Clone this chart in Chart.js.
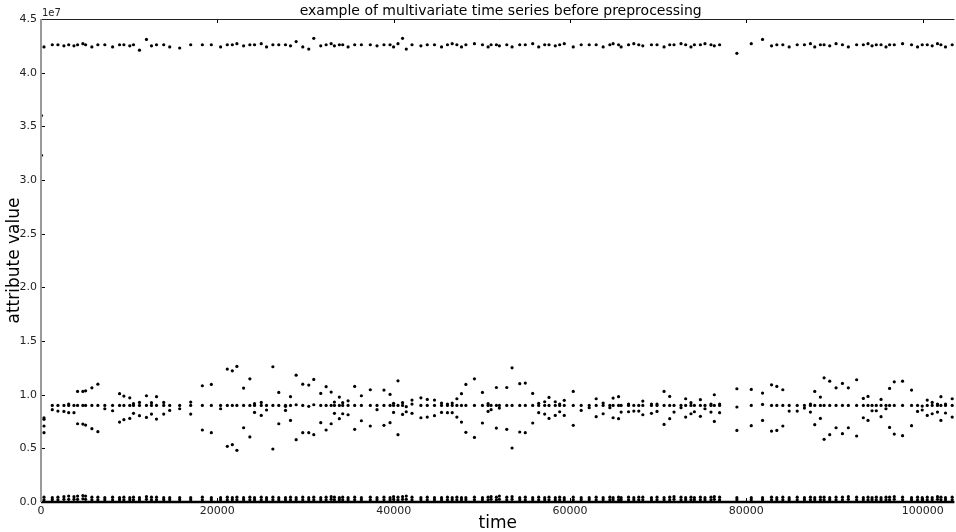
<!DOCTYPE html>
<html>
<head>
<meta charset="utf-8">
<script src="https://cdn.jsdelivr.net/npm/chart.js@4/dist/chart.umd.min.js"></script>
<style>
  html, body { margin: 0; padding: 0; background: #fff; }
  #chart { display: block; }
</style>
</head>
<body>
<canvas id="chart" width="956" height="532"></canvas>
<script>
// sample times (x axis)
const times = [
  340, 1280, 1920, 2600, 3140, 3740, 4150, 4750, 5060, 5770,
  6450, 7240, 8120, 8910, 9400, 10070, 10490, 11170, 11960, 12530,
  13100, 13920, 14600, 15730, 16980, 18300, 19320, 20370, 21130, 21700,
  22220, 22980, 23690, 24220, 24980, 25580, 26300, 26970, 27730, 28300,
  28940, 29690, 30370, 30940, 31730, 32340, 32910, 33280, 33840, 34220,
  34830, 35580, 36340, 37350, 38110, 38900, 39590, 39990, 40490, 41010,
  41430, 42080, 43090, 43810, 44630, 45430, 46100, 46640, 47170, 47690,
  48190, 49160, 50070, 50710, 51050, 51650, 51990, 52830, 53430, 54300,
  54930, 55770, 56450, 57130, 57620, 58330, 58830, 59350, 60370, 61270,
  62180, 62970, 63760, 64520, 64890, 65510, 65800, 66640, 67240, 67800,
  68260, 69240, 69870, 70670, 71310, 71800, 72590, 73120, 73720, 74110,
  74790, 75310, 75990, 76370, 76970, 78930, 80560, 81840, 82860, 83460,
  84140, 84860, 85770, 86590, 87270, 87760, 88400, 88820, 89460, 90180,
  90900, 91570, 92510, 93270, 93800, 94260, 94740, 95280, 95840, 96250,
  96780, 97720, 98740, 99420, 99950, 100520, 101080, 101680, 102070, 102590,
  103350
];

// attribute values, in millions
const topSeries = [
  42.4, 42.6, 42.6, 42.5, 42.6, 42.5, 42.6, 42.7, 42.6, 42.4,
  42.6, 42.6, 42.4, 42.6, 42.6, 42.5, 42.6, 42.1, 43.1, 42.5,
  42.6, 42.6, 42.4, 42.3, 42.6, 42.6, 42.6, 42.4, 42.6, 42.6,
  42.7, 42.5, 42.6, 42.6, 42.7, 42.4, 42.6, 42.6, 42.6, 42.5,
  42.9, 42.4, 42.2, 43.2, 42.5, 42.6, 42.7, 42.5, 42.6, 42.6,
  42.4, 42.6, 42.6, 42.6, 42.5, 42.6, 42.6, 42.4, 42.7, 43.2,
  42.2, 42.6, 42.5, 42.6, 42.6, 42.4, 42.6, 42.7, 42.6, 42.4,
  42.6, 42.7, 42.6, 42.4, 42.6, 42.6, 42.5, 42.6, 42.4, 42.6,
  42.6, 42.7, 42.4, 42.6, 42.6, 42.5, 42.6, 42.7, 42.4, 42.6,
  42.6, 42.6, 42.4, 42.6, 42.7, 42.6, 42.4, 42.6, 42.7, 42.6,
  42.5, 42.6, 42.6, 42.4, 42.6, 42.6, 42.7, 42.6, 42.4, 42.6,
  42.6, 42.7, 42.6, 42.5, 42.6, 41.8, 42.7, 43.1, 42.5, 42.6,
  42.6, 42.4, 42.6, 42.6, 42.7, 42.4, 42.6, 42.6, 42.5, 42.7,
  42.6, 42.4, 42.6, 42.6, 42.7, 42.5, 42.6, 42.6, 42.4, 42.6,
  42.6, 42.7, 42.6, 42.4, 42.6, 42.6, 42.5, 42.7, 42.6, 42.4,
  42.6
];

const midUpper = [
  7.85, null, null, null, 9.12, null, 10.30, 10.30, 10.36, 10.64,
  10.98, null, null, 10.09, 9.87, 9.71, 9.16, 9.28, 9.90, 9.25,
  9.81, 9.28, null, null, 9.31, 10.83, 10.95, null, 12.38, 12.22,
  12.63, 10.61, 11.48, 9.16, 9.28, null, 12.60, 10.21, 9.00, 9.81,
  11.82, 10.98, 10.89, 11.42, 10.12, 10.74, 10.24, 9.31, 9.78, 9.25,
  9.43, 10.77, 9.90, 10.46, null, 10.43, 10.02, 9.19, 11.29, 9.25,
  null, 9.50, 9.71, 9.56, 9.50, 9.22, 9.12, 9.22, 9.62, 10.09,
  10.95, 11.48, 10.21, 9.16, null, 10.67, null, 10.67, 12.50, 11.02,
  11.08, 10.12, 9.19, 9.34, 9.74, 9.34, 9.12, 9.47, 10.30, null,
  null, 9.62, 9.22, null, 9.68, 9.81, null, 9.12, null, null,
  9.40, 9.12, 9.12, 10.30, 9.84, null, null, 9.62, 9.25, null,
  9.53, null, 9.12, 9.99, 9.12, 10.55, 10.49, 10.15, 10.92, 10.77,
  10.46, null, null, null, 9.12, 10.30, 9.78, 11.57, 11.26, 10.64,
  11.05, 10.64, 11.39, 9.65, 9.84, null, null, 9.56, null, 10.58,
  11.20, 11.26, 10.43, null, null, 9.50, 9.28, 9.12, 9.81, 9.12,
  9.62
];

const midCenter = [
  7.70, 9.00, 9.00, 9.00, 9.00, 9.00, 9.00, 9.00, 9.00, 9.00,
  9.00, 9.00, 9.00, 9.00, 9.00, 9.00, 9.00, 9.00, 9.00, 9.00,
  9.00, 9.00, 9.00, 9.00, 9.00, 9.00, 9.00, 9.00, 9.00, 9.00,
  9.00, 9.00, 9.00, 9.00, 9.00, 9.00, 9.00, 9.00, 8.91, 9.00,
  9.06, 9.00, 8.91, 9.06, 9.00, 9.00, 9.00, 9.00, 9.00, 9.00,
  9.00, 9.00, 9.00, 9.00, 9.00, 9.00, 9.00, 9.00, 9.00, 9.00,
  8.88, 9.12, 9.00, 9.00, 9.00, 9.00, 9.00, 9.00, 9.00, 9.00,
  9.00, 9.00, 9.00, 9.00, 9.00, 9.00, 9.00, 9.00, 9.00, 9.00,
  9.00, 9.00, 9.00, 9.00, 9.00, 9.00, 9.00, 9.00, 9.00, 9.00,
  9.00, 9.00, 9.00, 9.00, 9.00, 9.00, 9.00, 9.00, 9.00, 9.00,
  9.00, 9.00, 9.00, 9.00, 9.00, 9.00, 9.00, 9.00, 9.00, 9.00,
  9.00, 9.00, 9.00, 9.00, 9.00, 8.85, 9.00, 9.09, 9.00, 9.00,
  9.00, 9.00, 9.00, 9.00, 9.00, 9.00, 9.00, 9.00, 9.00, 9.00,
  9.00, 9.00, 9.00, 9.00, 9.00, 9.00, 9.00, 9.00, 9.00, 9.00,
  9.00, 9.00, 9.00, 9.00, 8.94, 9.00, 9.00, 9.00, 9.00, 9.00,
  9.00
];

const midLower = [
  7.08, 8.60, 8.47, 8.44, 8.32, 8.32, 7.29, 7.26, 7.17, 6.83,
  6.55, 8.69, 8.50, 7.45, 7.67, 7.79, 8.26, 8.04, 7.88, 8.19,
  7.73, 8.19, 8.53, 8.69, 8.19, 6.71, 6.46, 8.69, 5.19, 5.34,
  4.81, 6.92, 6.06, 8.35, 8.07, 8.57, 4.94, 7.29, 8.53, 7.60,
  5.81, 6.46, 6.46, 6.27, 7.39, 6.71, 7.29, 8.26, 7.76, 8.22,
  8.13, 6.77, 7.57, 7.08, 8.60, 7.14, 7.39, 8.35, 6.27, 8.16,
  8.41, 8.26, 7.85, 7.91, 8.04, 8.35, 8.32, 8.32, 7.91, 7.45,
  6.49, 6.02, 7.36, 8.44, 8.60, 6.89, 8.75, 6.77, 5.03, 6.52,
  6.46, 7.36, 8.32, 8.19, 7.79, 8.07, 8.41, 8.07, 7.14, 8.53,
  8.78, 7.95, 8.22, 8.78, 7.85, 7.76, 8.38, 8.41, 8.47, 8.47,
  8.13, 8.26, 8.44, 7.23, 7.76, 8.38, 8.78, 7.91, 8.22, 8.41,
  7.98, 8.69, 8.38, 7.51, 8.32, 6.67, 7.11, 7.60, 6.61, 6.67,
  7.08, 8.47, 8.47, 8.75, 8.38, 7.20, 7.79, 5.84, 6.27, 6.92,
  6.37, 6.92, 6.15, 7.85, 7.60, 8.50, 8.50, 7.95, 8.69, 6.95,
  6.33, 6.18, 7.11, 8.44, 8.57, 8.07, 8.22, 8.38, 7.60, 8.29,
  7.91
];

const lowUpper = [
  0.45, 0.40, 0.45, 0.50, 0.55, 0.50, 0.55, 0.60, 0.55, 0.45,
  0.45, 0.40, 0.45, 0.40, 0.45, 0.40, 0.45, 0.40, 0.50, 0.45,
  0.45, 0.40, 0.40, 0.40, 0.40, 0.45, 0.40, 0.40, 0.45, 0.40,
  0.45, 0.40, 0.45, 0.40, 0.45, 0.40, 0.45, 0.40, 0.40, 0.45,
  0.40, 0.45, 0.40, 0.45, 0.40, 0.45, 0.50, 0.45, 0.40, 0.45,
  0.40, 0.45, 0.40, 0.45, 0.40, 0.45, 0.40, 0.50, 0.45, 0.50,
  0.55, 0.45, 0.40, 0.45, 0.40, 0.40, 0.45, 0.40, 0.45, 0.40,
  0.40, 0.45, 0.40, 0.45, 0.50, 0.45, 0.55, 0.45, 0.50, 0.40,
  0.45, 0.40, 0.45, 0.40, 0.45, 0.40, 0.45, 0.40, 0.45, 0.40,
  0.40, 0.45, 0.40, 0.45, 0.40, 0.45, 0.40, 0.45, 0.40, 0.45,
  0.45, 0.40, 0.45, 0.40, 0.45, 0.50, 0.45, 0.40, 0.45, 0.40,
  0.45, 0.40, 0.45, 0.50, 0.45, 0.40, 0.40, 0.40, 0.45, 0.40,
  0.45, 0.40, 0.45, 0.40, 0.45, 0.40, 0.45, 0.45, 0.40, 0.45,
  0.45, 0.50, 0.45, 0.40, 0.45, 0.40, 0.45, 0.40, 0.45, 0.45,
  0.50, 0.45, 0.40, 0.45, 0.40, 0.45, 0.40, 0.50, 0.45, 0.40,
  0.45
];

const lowMid = [
  0.20, 0.20, 0.20, 0.25, 0.25, 0.25, 0.25, 0.30, 0.25, 0.20,
  0.20, 0.20, 0.20, 0.20, 0.20, 0.20, 0.20, 0.20, 0.25, 0.20,
  0.20, 0.20, 0.20, 0.20, 0.20, 0.20, 0.20, 0.20, 0.20, 0.20,
  0.20, 0.20, 0.20, 0.20, 0.20, 0.20, 0.20, 0.20, 0.20, 0.20,
  0.20, 0.20, 0.20, 0.20, 0.20, 0.20, 0.25, 0.20, 0.20, 0.20,
  0.20, 0.20, 0.20, 0.20, 0.20, 0.20, 0.20, 0.25, 0.20, 0.25,
  0.25, 0.20, 0.20, 0.20, 0.20, 0.20, 0.20, 0.20, 0.20, 0.20,
  0.20, 0.20, 0.20, 0.20, 0.25, 0.20, 0.25, 0.20, 0.25, 0.20,
  0.20, 0.20, 0.20, 0.20, 0.20, 0.20, 0.20, 0.20, 0.20, 0.20,
  0.20, 0.20, 0.20, 0.20, 0.20, 0.20, 0.20, 0.20, 0.20, 0.20,
  0.20, 0.20, 0.20, 0.20, 0.20, 0.25, 0.20, 0.20, 0.20, 0.20,
  0.20, 0.20, 0.20, 0.25, 0.20, 0.20, 0.20, 0.20, 0.20, 0.20,
  0.20, 0.20, 0.20, 0.20, 0.20, 0.20, 0.20, 0.20, 0.20, 0.20,
  0.20, 0.25, 0.20, 0.20, 0.20, 0.20, 0.20, 0.20, 0.20, 0.20,
  0.25, 0.20, 0.20, 0.20, 0.20, 0.20, 0.20, 0.25, 0.20, 0.20,
  0.20
];

// odd points near the start
const extraTimes = [50, 50, 340];
const extraValues = [36.0, 32.3, 6.46];

const yTicks = [0, 5, 10, 15, 20, 25, 30, 35, 40, 45];  // millions
const xTicks = [0, 20000, 40000, 60000, 80000, 100000];

const toPoints = (xs, vals) => xs
  .map((t, i) => vals[i] == null ? null : { x: t, y: vals[i] * 1e6 })
  .filter(p => p !== null);

const dot = (data) => ({
  data: data,
  backgroundColor: '#000',
  borderWidth: 0,
  pointRadius: 1.6,
  pointHoverRadius: 1.6,
  showLine: false
});

// spines, inward ticks, title and offset label
const framePlugin = {
  id: 'frame',
  afterDatasetsDraw(chart) {
    const { ctx, chartArea: a, scales } = chart;
    ctx.save();
    ctx.lineWidth = 1;
    ctx.strokeStyle = '#000';
    xTicks.forEach(v => {
      const px = Math.round(scales.x.getPixelForValue(v)) + 0.5;
      ctx.beginPath();
      ctx.moveTo(px, a.bottom); ctx.lineTo(px, a.bottom - 4);
      ctx.moveTo(px, a.top); ctx.lineTo(px, a.top + 4);
      ctx.stroke();
    });
    yTicks.forEach(v => {
      const py = Math.round(scales.y.getPixelForValue(v * 1e6)) + 0.5;
      ctx.beginPath();
      ctx.moveTo(a.left, py); ctx.lineTo(a.left + 4, py);
      ctx.stroke();
    });
    // top
    ctx.strokeStyle = '#222';
    ctx.beginPath();
    ctx.moveTo(a.left, a.top + 0.5); ctx.lineTo(a.right, a.top + 0.5);
    ctx.stroke();
    // bottom
    ctx.strokeStyle = '#000';
    ctx.lineWidth = 2.5;
    ctx.beginPath();
    ctx.moveTo(a.left, a.bottom); ctx.lineTo(a.right, a.bottom);
    ctx.stroke();
    // left
    ctx.strokeStyle = '#999';
    ctx.lineWidth = 2;
    ctx.beginPath();
    ctx.moveTo(a.left, a.top); ctx.lineTo(a.left, a.bottom);
    ctx.stroke();

    ctx.fillStyle = '#000';
    ctx.textBaseline = 'alphabetic';
    ctx.textAlign = 'center';
    ctx.font = '14px "DejaVu Sans"';
    ctx.fillText('example of multivariate time series before preprocessing', (a.left + a.right) / 2 + 3, a.top - 4);
    ctx.textAlign = 'left';
    ctx.font = '10px "DejaVu Sans"';
    ctx.fillStyle = '#222';
    ctx.fillText('1e7', a.left + 1, a.top - 3);
    ctx.restore();
  }
};

new Chart(document.getElementById('chart'), {
  type: 'scatter',
  data: {
    datasets: [
      dot(toPoints(times, topSeries)),
      dot(toPoints(times, midUpper)),
      dot(toPoints(times, midCenter)),
      dot(toPoints(times, midLower)),
      dot(toPoints(times, lowUpper)),
      dot(toPoints(times, lowMid)),
      dot(toPoints(extraTimes, extraValues))
    ]
  },
  options: {
    responsive: false,
    animation: false,
    events: [],
    layout: { padding: { top: 19, left: 0, right: 0, bottom: 0 } },
    plugins: {
      legend: { display: false },
      tooltip: { enabled: false },
      title: { display: false }
    },
    scales: {
      x: {
        type: 'linear',
        min: 0,
        max: 103600,
        border: { display: false },
        grid: { display: false, drawTicks: false },
        afterBuildTicks: s => { s.ticks = xTicks.map(v => ({ value: v })); },
        ticks: {
          autoSkip: false,
          maxRotation: 0,
          padding: 3,
          color: '#222',
          font: { family: 'DejaVu Sans', size: 11 },
          callback: v => String(v)
        },
        title: {
          display: true,
          text: 'time',
          color: '#000',
          padding: { top: 0, bottom: -2 },
          font: { family: 'DejaVu Sans', size: 17 }
        },
        afterFit: s => { s.height = 30; }
      },
      y: {
        type: 'linear',
        min: 0,
        max: 45e6,
        border: { display: false },
        grid: { display: false, drawTicks: false },
        afterBuildTicks: s => { s.ticks = yTicks.map(v => ({ value: v * 1e6 })); },
        ticks: {
          autoSkip: false,
          padding: 4,
          color: '#222',
          font: { family: 'DejaVu Sans', size: 11 },
          callback: v => (v / 1e7).toFixed(1)
        },
        title: {
          display: true,
          text: 'attribute value',
          color: '#000',
          padding: { top: 4, bottom: 0 },
          font: { family: 'DejaVu Sans', size: 17 }
        },
        afterFit: s => { s.width = 41; }
      }
    }
  },
  plugins: [framePlugin]
});
</script>
</body>
</html>
